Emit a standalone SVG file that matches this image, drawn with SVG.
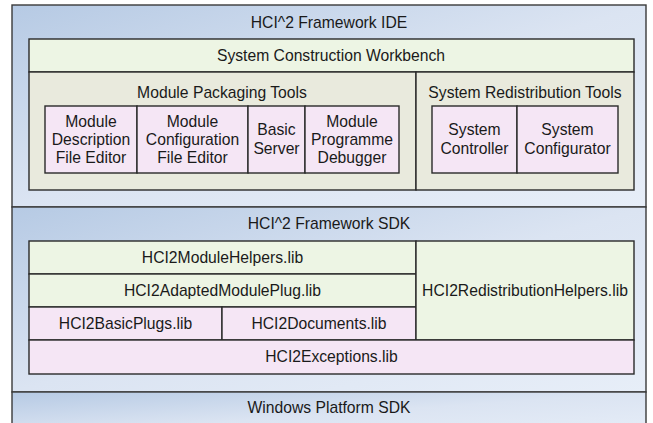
<svg xmlns="http://www.w3.org/2000/svg" width="653" height="423" viewBox="0 0 653 423">
  <defs>
    <linearGradient id="panelGrad" x1="0" y1="0" x2="1" y2="1">
      <stop offset="0" stop-color="#b6cae4"/>
      <stop offset="0.5" stop-color="#dbe4f2"/>
      <stop offset="1" stop-color="#e7eef8"/>
    </linearGradient>
    <style>
      .panel { fill: url(#panelGrad); stroke: #3a3a3a; stroke-width: 1.4; }
      .green { fill: #edf5e4; stroke: #2a2a2a; stroke-width: 1.4; }
      .olive { fill: #e9eadd; stroke: #2a2a2a; stroke-width: 1.4; }
      .pink { fill: #f5e6f5; stroke: #2a2a2a; stroke-width: 1.4; }
      text { font-family: "Liberation Sans", Arial, sans-serif; font-size: 15.7px; fill: #1a1a1a; text-anchor: middle; }
    </style>
  </defs>
  <rect width="653" height="423" fill="#ffffff"/>

  <g id="ide">
    <rect class="panel" x="12" y="5" width="634" height="202"/>
    <text x="329" y="28">HCI^2 Framework IDE</text>
  </g>

  <g id="workbench">
    <rect class="green" x="29" y="39" width="605" height="33"/>
    <text x="331" y="61">System Construction Workbench</text>
  </g>

  <g id="module-packaging-tools">
    <rect class="olive" x="29" y="72" width="387" height="118"/>
    <text x="222" y="98">Module Packaging Tools</text>
  </g>

  <g id="system-redistribution-tools">
    <rect class="olive" x="416" y="72" width="218" height="118"/>
    <text x="525" y="98">System Redistribution Tools</text>
  </g>

  <g id="module-description-file-editor">
    <rect class="pink" x="45" y="106" width="92" height="67"/>
    <text x="91" y="127">Module</text>
    <text x="91" y="145">Description</text>
    <text x="91" y="163">File Editor</text>
  </g>

  <g id="module-configuration-file-editor">
    <rect class="pink" x="137" y="106" width="111" height="67"/>
    <text x="192.5" y="127">Module</text>
    <text x="192.5" y="145">Configuration</text>
    <text x="192.5" y="163">File Editor</text>
  </g>

  <g id="basic-server">
    <rect class="pink" x="248" y="106" width="57" height="67"/>
    <text x="276.5" y="135">Basic</text>
    <text x="276.5" y="154">Server</text>
  </g>

  <g id="module-programme-debugger">
    <rect class="pink" x="305" y="106" width="94" height="67"/>
    <text x="352" y="127">Module</text>
    <text x="352" y="145">Programme</text>
    <text x="352" y="163">Debugger</text>
  </g>

  <g id="system-controller">
    <rect class="pink" x="432" y="106" width="85" height="67"/>
    <text x="474.5" y="135">System</text>
    <text x="474.5" y="154">Controller</text>
  </g>

  <g id="system-configurator">
    <rect class="pink" x="517" y="106" width="101" height="67"/>
    <text x="567.5" y="135">System</text>
    <text x="567.5" y="154">Configurator</text>
  </g>

  <g id="sdk">
    <rect class="panel" x="12" y="207" width="634" height="185"/>
    <text x="329" y="229">HCI^2 Framework SDK</text>
  </g>

  <g id="module-helpers">
    <rect class="green" x="29" y="241" width="387" height="33"/>
    <text x="222.5" y="263">HCI2ModuleHelpers.lib</text>
  </g>

  <g id="adapted-module-plug">
    <rect class="green" x="29" y="274" width="387" height="33"/>
    <text x="222.5" y="296">HCI2AdaptedModulePlug.lib</text>
  </g>

  <g id="basic-plugs">
    <rect class="pink" x="29" y="307" width="193" height="33"/>
    <text x="125.5" y="329">HCI2BasicPlugs.lib</text>
  </g>

  <g id="documents">
    <rect class="pink" x="222" y="307" width="194" height="33"/>
    <text x="319" y="329">HCI2Documents.lib</text>
  </g>

  <g id="redistribution-helpers">
    <rect class="green" x="416" y="241" width="218" height="99"/>
    <text x="525" y="296">HCI2RedistributionHelpers.lib</text>
  </g>

  <g id="exceptions">
    <rect class="pink" x="29" y="340" width="605" height="34"/>
    <text x="331.5" y="362">HCI2Exceptions.lib</text>
  </g>

  <g id="windows-sdk">
    <rect class="panel" x="12" y="392" width="634" height="45"/>
    <text x="329" y="413">Windows Platform SDK</text>
  </g>

  <g id="connectors"></g>
</svg>
